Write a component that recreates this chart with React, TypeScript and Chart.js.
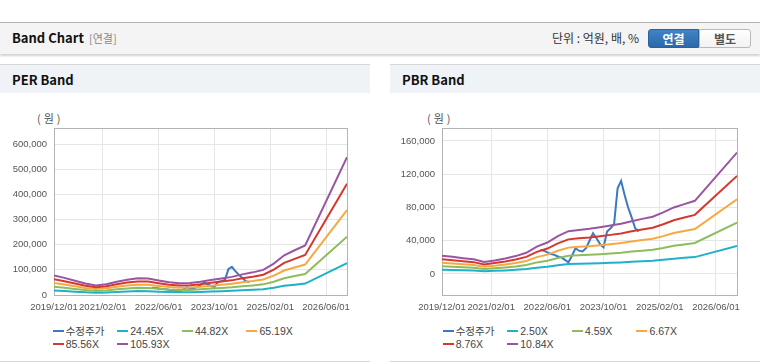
import React, { useEffect, useRef } from "react";
import { Chart, registerables } from "chart.js";

Chart.register(...registerables);

// ---------- data ----------
const xTickLabels = ["2019/12/01", "2021/02/01", "2022/06/01", "2023/10/01", "2025/02/01", "2026/06/01"];
const xRange = ["2019/12", "2026/12"];

const bandDates = [
  "2019/12", "2020/03", "2020/06", "2020/09", "2020/12", "2021/03", "2021/06", "2021/09", "2021/12",
  "2022/03", "2022/06", "2022/09", "2022/12", "2023/03", "2023/06", "2023/09", "2023/12", "2024/03",
  "2024/06", "2024/09", "2024/12", "2025/03", "2025/06", "2025/09", "2025/12", "2026/12",
];

const priceDates = [
  "2022/04", "2022/05", "2022/06", "2022/07", "2022/08", "2022/09", "2022/10", "2022/11", "2022/12",
  "2023/01", "2023/02", "2023/03", "2023/04", "2023/05", "2023/06", "2023/07", "2023/08", "2023/09",
  "2023/10", "2023/11", "2023/12", "2024/01", "2024/02", "2024/03", "2024/04", "2024/05", "2024/06",
  "2024/07", "2024/08",
];
const priceValues = [
  29000, 28000, 26000, 24000, 23000, 21000, 20000, 17000, 14000,
  22000, 31000, 28000, 27000, 31000, 40000, 49000, 43000, 36000,
  32000, 51000, 55000, 60000, 103000, 112000, 95000, 80000, 68000,
  55000, 51000,
];

const perLegend = ["수정주가", "24.45X", "44.82X", "65.19X", "85.56X", "105.93X"];
const perBand1 = [18000, 15700, 13150, 10610, 8780, 9930, 12230, 14080, 15450, 15230, 13400, 11760, 10860, 11080, 12230, 13840, 15230, 16630, 18920, 20780, 23080, 28850, 36480, 41080, 45480, 126480];
const perBand2 = [32990, 28770, 24110, 19450, 16090, 18200, 22410, 25820, 28330, 27920, 24560, 21560, 19900, 20300, 22410, 25370, 27920, 30480, 34690, 38100, 42310, 52890, 66870, 75300, 83370, 231850];
const perBand3 = [47980, 41850, 35070, 28290, 23400, 26470, 32600, 37550, 41200, 40610, 35720, 31360, 28940, 29530, 32600, 36900, 40610, 44330, 50460, 55410, 61540, 76920, 97260, 109520, 121250, 337230];
const perBand4 = [62970, 54930, 46030, 37130, 30720, 34740, 42780, 49280, 54070, 53300, 46890, 41150, 37990, 38760, 42780, 48430, 53300, 58180, 66220, 72730, 80770, 100960, 127660, 143740, 159140, 442600];
const perBand5 = [77960, 68010, 56990, 45970, 38030, 43010, 52970, 61020, 66950, 65990, 58050, 50950, 47030, 47990, 52970, 59960, 65990, 72030, 81990, 90040, 100000, 125000, 158050, 177960, 197030, 547980];
const perYTicks = [0, 100000, 200000, 300000, 400000, 500000, 600000];
const perYRange = [0, 664000];

const pbrLegend = ["수정주가", "2.50X", "4.59X", "6.67X", "8.76X", "10.84X"];
const pbrBand1 = [5080, 4750, 4380, 4060, 3300, 3760, 4290, 4960, 5880, 7590, 8720, 10490, 11880, 12220, 12550, 12960, 13420, 13930, 14650, 15290, 15870, 17070, 18450, 19370, 20300, 33670];
const pbrBand2 = [9320, 8720, 8050, 7450, 6050, 6900, 7880, 9100, 10800, 13930, 16010, 19260, 21810, 22440, 23030, 23800, 24640, 25580, 26890, 28070, 29130, 31340, 33870, 35570, 37260, 61820];
const pbrBand3 = [13540, 12670, 11690, 10830, 8800, 10030, 11450, 13230, 15690, 20240, 23260, 27990, 31690, 32610, 33470, 34580, 35810, 37170, 39070, 40790, 42330, 45540, 49230, 51690, 54150, 89840];
const pbrBand4 = [17780, 16640, 15360, 14230, 11550, 13180, 15030, 17370, 20600, 26590, 30550, 36770, 41620, 42830, 43960, 45420, 47030, 48810, 51320, 53580, 55600, 59810, 64650, 67880, 71110, 117990];
const pbrBand5 = [22010, 20600, 19000, 17600, 14300, 16300, 18600, 21500, 25500, 32900, 37800, 45500, 51500, 53000, 54400, 56200, 58200, 60400, 63500, 66300, 68800, 74000, 80000, 84000, 88000, 146000];
const pbrYTicks = [0, 40000, 80000, 120000, 160000];
const pbrYRange = [-25300, 175600];

const seriesColors = ["#3c78c3", "#1fb1c7", "#8fbc5c", "#f6a940", "#d4382e", "#9a55a2"];

// ---------- helpers ----------
function monthIndex(s: string): number {
  const parts = s.split("/").map(Number);
  return (parts[0] - 2019) * 12 + (parts[1] - 12);
}
function toXY(dates: string[], values: number[]) {
  return dates.map((d, i) => ({ x: monthIndex(d), y: values[i] }));
}
function fmt(v: number): string {
  return Math.round(v).toLocaleString("en-US");
}

const tickFont = { family: "'Liberation Sans', Arial, sans-serif", size: 9.5 };
const tickColor = "#555";
const gridColor = "#e6e6e6";

const framePlugin = {
  id: "frame",
  beforeDatasetsDraw(chart: any) {
    const { ctx, chartArea: a } = chart;
    ctx.save();
    ctx.strokeStyle = "#b3b3b3";
    ctx.lineWidth = 1;
    ctx.strokeRect(
      Math.round(a.left) + 0.5,
      Math.round(a.top) + 0.5,
      Math.round(a.right - a.left),
      Math.round(a.bottom - a.top)
    );
    ctx.restore();
  },
};

type BandProps = {
  left: number;
  top: number;
  width: number;
  height: number;
  axisWidth: number;
  padRight: number;
  padTop: number;
  bands: number[][];
  legend: string[];
  yTicks: number[];
  yRange: number[];
};

function BandCanvas(p: BandProps) {
  const ref = useRef<HTMLCanvasElement | null>(null);
  useEffect(() => {
    if (!ref.current) return;
    const datasets: any[] = [];
    datasets.push({
      label: p.legend[0],
      data: toXY(priceDates, priceValues),
      borderColor: seriesColors[0],
      backgroundColor: seriesColors[0],
      borderWidth: 2,
      pointRadius: 0,
      tension: 0,
      order: 10,
    });
    p.bands.forEach((b, i) => {
      datasets.push({
        label: p.legend[i + 1],
        data: toXY(bandDates, b),
        borderColor: seriesColors[i + 1],
        backgroundColor: seriesColors[i + 1],
        borderWidth: 2,
        pointRadius: 0,
        tension: 0,
        order: 5 - i,
      });
    });
    const chart = new Chart(ref.current, {
      type: "line",
      data: { datasets },
      plugins: [framePlugin],
      options: {
        animation: false,
        responsive: false,
        maintainAspectRatio: false,
        events: [],
        layout: { padding: { left: 0, right: p.padRight, top: p.padTop, bottom: 0 } },
        plugins: { legend: { display: false }, tooltip: { enabled: false }, title: { display: false } },
        scales: {
          x: {
            type: "linear",
            min: monthIndex(xRange[0]),
            max: monthIndex(xRange[1]),
            afterBuildTicks: (s: any) => {
              s.ticks = xTickLabels.map((l) => ({ value: monthIndex(l) }));
            },
            afterFit: (s: any) => {
              s.height = 20;
            },
            grid: { color: gridColor, drawTicks: false },
            border: { display: false },
            ticks: {
              autoSkip: false,
              maxRotation: 0,
              padding: 7,
              font: tickFont,
              color: tickColor,
              callback: (v: any) => {
                const idx = xTickLabels.findIndex((l) => monthIndex(l) === Number(v));
                return idx >= 0 ? xTickLabels[idx] : "";
              },
            },
          },
          y: {
            type: "linear",
            min: p.yRange[0],
            max: p.yRange[1],
            afterBuildTicks: (s: any) => {
              s.ticks = p.yTicks.map((v) => ({ value: v }));
            },
            afterFit: (s: any) => {
              s.width = p.axisWidth;
            },
            grid: { color: gridColor, drawTicks: false },
            border: { display: false },
            ticks: {
              padding: 7,
              font: tickFont,
              color: tickColor,
              callback: (v: any) => fmt(Number(v)),
            },
          },
        },
      } as any,
    });
    return () => chart.destroy();
  }, []);
  return (
    <canvas
      ref={ref}
      width={p.width}
      height={p.height}
      style={{ position: "absolute", left: p.left, top: p.top, width: p.width, height: p.height }}
    />
  );
}

const cjk = "'Noto Sans CJK KR', 'Liberation Sans', sans-serif";
const latin = "'Liberation Sans', 'Noto Sans CJK KR', sans-serif";

function Legend({ left, top, labels }: { left: number; top: number; labels: string[] }) {
  return (
    <div style={{ position: "absolute", left, top, width: 260, display: "flex", flexWrap: "wrap" }}>
      {labels.map((l, i) => (
        <div
          key={l}
          style={{ width: 64.6, height: 13.4, display: "flex", alignItems: "center", fontFamily: latin, fontSize: 10.5, color: "#444", whiteSpace: "nowrap" }}
        >
          <span style={{ display: "inline-block", width: 11, height: 2, background: seriesColors[i], marginRight: 2 }} />
          <span>{l}</span>
        </div>
      ))}
    </div>
  );
}

function Panel({ left, width, title }: { left: number; width: number; title: string }) {
  return (
    <>
      <div style={{ position: "absolute", left, top: 64, width, height: 29, background: "#eff3f8", borderTop: "1px solid #d6d6d6", boxSizing: "border-box" }}>
        <div style={{ position: "absolute", left: 12, top: 0, lineHeight: "30px", fontFamily: cjk, fontWeight: 700, fontSize: 13, color: "#111" }}>{title}</div>
      </div>
      <div style={{ position: "absolute", left, top: 361, width, height: 1, background: "#d8d8d8" }} />
    </>
  );
}

export default function App() {
  return (
    <div style={{ position: "absolute", left: 0, top: 0, width: 760, height: 364, background: "#fff", overflow: "hidden", fontFamily: cjk }}>
      {/* header bar */}
      <div style={{ position: "absolute", left: 0, top: 22, width: 760, height: 32, background: "#f4f4f4", borderTop: "1px solid #b5b5b5", boxShadow: "0 2px 2px rgba(0,0,0,0.18)", boxSizing: "border-box" }}>
        <div style={{ position: "absolute", left: 12, top: 0, lineHeight: "30px", fontWeight: 700, fontSize: 13, color: "#111" }}>Band Chart</div>
        <div style={{ position: "absolute", left: 89, top: 0, lineHeight: "30px", fontSize: 11, color: "#888" }}>[연결]</div>
        <div style={{ position: "absolute", left: 552, top: 0, lineHeight: "30px", fontSize: 12, color: "#333" }}>단위 : 억원, 배, %</div>
        <div style={{ position: "absolute", left: 648, top: 6, width: 51, height: 19, background: "linear-gradient(#4183c6, #2c69a9)", borderRadius: "3px 0 0 3px", color: "#fff", fontWeight: 700, fontSize: 12, lineHeight: "17px", textAlign: "center", boxSizing: "border-box", border: "1px solid #2a62a0" }}>연결</div>
        <div style={{ position: "absolute", left: 699, top: 6, width: 52, height: 19, background: "linear-gradient(#ffffff, #f2f2f2)", borderRadius: "0 3px 3px 0", color: "#555", fontWeight: 700, fontSize: 12, lineHeight: "17px", textAlign: "center", boxSizing: "border-box", border: "1px solid #b9b9b9" }}>별도</div>
      </div>

      <Panel left={0} width={370} title="PER Band" />
      <Panel left={390} width={370} title="PBR Band" />

      <div style={{ position: "absolute", left: 37, top: 110, fontSize: 11, color: "#555", lineHeight: "16px", letterSpacing: 3 }}>(원)</div>
      <div style={{ position: "absolute", left: 427, top: 110, fontSize: 11, color: "#555", lineHeight: "16px", letterSpacing: 3 }}>(원)</div>

      <BandCanvas
        left={0} top={100} width={370} height={215}
        axisWidth={54} padRight={23} padTop={28}
        bands={[perBand1, perBand2, perBand3, perBand4, perBand5]}
        legend={perLegend} yTicks={perYTicks} yRange={perYRange}
      />
      <BandCanvas
        left={390} top={100} width={370} height={215}
        axisWidth={52} padRight={23} padTop={28}
        bands={[pbrBand1, pbrBand2, pbrBand3, pbrBand4, pbrBand5]}
        legend={pbrLegend} yTicks={pbrYTicks} yRange={pbrYRange}
      />

      <Legend left={52.7} top={324} labels={perLegend} />
      <Legend left={442.7} top={324} labels={pbrLegend} />
    </div>
  );
}
